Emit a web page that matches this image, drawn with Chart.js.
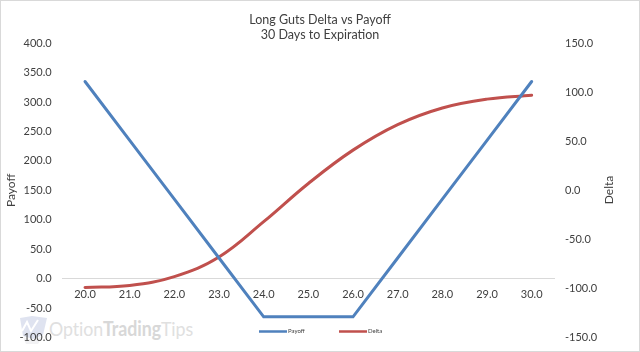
<!DOCTYPE html>
<html><head><meta charset="utf-8">
<style>
html,body{margin:0;padding:0;background:#fff;}
#wrap{position:relative;width:640px;height:352px;overflow:hidden;}
#wm{position:absolute;left:49px;top:313px;font:20px Lato,sans-serif;letter-spacing:-0.1px;color:#e0e0e0;white-space:nowrap;line-height:30px;transform:scaleX(0.89);transform-origin:left center;}
#wm b{font-weight:700;color:#d8d8d8;}
#ic{position:absolute;left:18px;top:315px;}
canvas{position:absolute;left:0;top:0;}
</style></head><body>
<div id="wrap">
<svg id="ic" width="30" height="30" viewBox="0 0 30 30"><polygon points="2,3 14,1 29,3 25,20 15,24 5,21" fill="#dfe3f0"/><polyline points="4,16 9,7 13,16 20,5" fill="none" stroke="#fff" stroke-width="2"/><polygon points="5,22 15,25 25,21 20,29 8,29" fill="#f2f2f4"/></svg>
<div id="wm">Option<b>Trading</b>Tips</div>
<canvas id="c" width="640" height="355"></canvas>
</div>
<script src="https://cdn.jsdelivr.net/npm/chart.js@4"></script>
<script>
const categories=["20.0","21.0","22.0","23.0","24.0","25.0","26.0","27.0","28.0","29.0","30.0"];
const payoff=[335,235,135,35,-65,-65,-65,35,135,235,335];
const delta=[-99,-97,-88,-68,-32,7,41,67,84,93,97];
const titleLines=["Long Guts Delta vs Payoff","30 Days to Expiration"];
const seriesNames=["Payoff","Delta"];
const txt="#404040";
const tickFont={family:"Lato",size:11};
const frame={id:"frame",
 afterDraw(ch){const g=ch.ctx;g.save();g.strokeStyle="#d9d9d9";g.lineWidth=2;g.strokeRect(0,0,640,352);
  const items=[[259,287,288],[339,367,368]];
  ch.data.datasets.forEach((d,i)=>{const [a,b,t]=items[i];g.strokeStyle=d.borderColor;g.lineWidth=2.5;g.beginPath();g.moveTo(a,331.5);g.lineTo(b,331.5);g.stroke();
   g.fillStyle=txt;g.font="6px Lato";g.textBaseline="middle";g.textAlign="left";g.fillText(d.label,t,331.5);});
  g.translate(609,190);g.rotate(-Math.PI/2);g.fillStyle=txt;g.font="12px Lato";g.textAlign="center";g.textBaseline="middle";g.fillText(seriesNames[1],0,0);
  g.restore();}};
new Chart(document.getElementById("c"),{type:"line",
 data:{labels:categories,datasets:[
  {label:seriesNames[0],data:payoff,yAxisID:"y",borderColor:"#4f81bd",borderWidth:3,pointRadius:0,tension:0,borderCapStyle:"round"},
  {label:seriesNames[1],data:delta,yAxisID:"y2",borderColor:"#c0504d",borderWidth:3,pointRadius:0,tension:0.4,borderCapStyle:"round"}]},
 plugins:[frame],
 options:{responsive:false,animation:false,
  layout:{padding:{top:7,bottom:8,left:0,right:0}},
  plugins:{legend:{display:false},tooltip:{enabled:false},
   title:{display:true,text:titleLines,color:txt,font:{family:"Lato",size:12.5,weight:"normal",lineHeight:1.25},padding:{top:5,bottom:0}}},
  scales:{
   x:{offset:true,position:{y:0},grid:{display:false,drawTicks:false},border:{color:"#d9d9d9",width:1},
      ticks:{color:txt,font:tickFont,padding:9,maxRotation:0},afterFit(s){s.height=0;}},
   y:{min:-100,max:400,position:"left",grid:{display:false,drawTicks:false},border:{display:false},
      ticks:{stepSize:50,color:txt,font:tickFont,padding:11,callback:v=>v.toFixed(1)},
      title:{display:true,text:seriesNames[0],color:txt,font:{family:"Lato",size:12},padding:{top:4,bottom:0}},
      afterFit(s){s.width=62.7;}},
   y2:{min:-150,max:150,position:"right",grid:{display:false,drawTicks:false},border:{display:false},
      ticks:{stepSize:50,color:txt,font:tickFont,padding:11,callback:v=>v.toFixed(1)},
      afterFit(s){s.width=86;}}
  }}});
</script>
</body></html>
